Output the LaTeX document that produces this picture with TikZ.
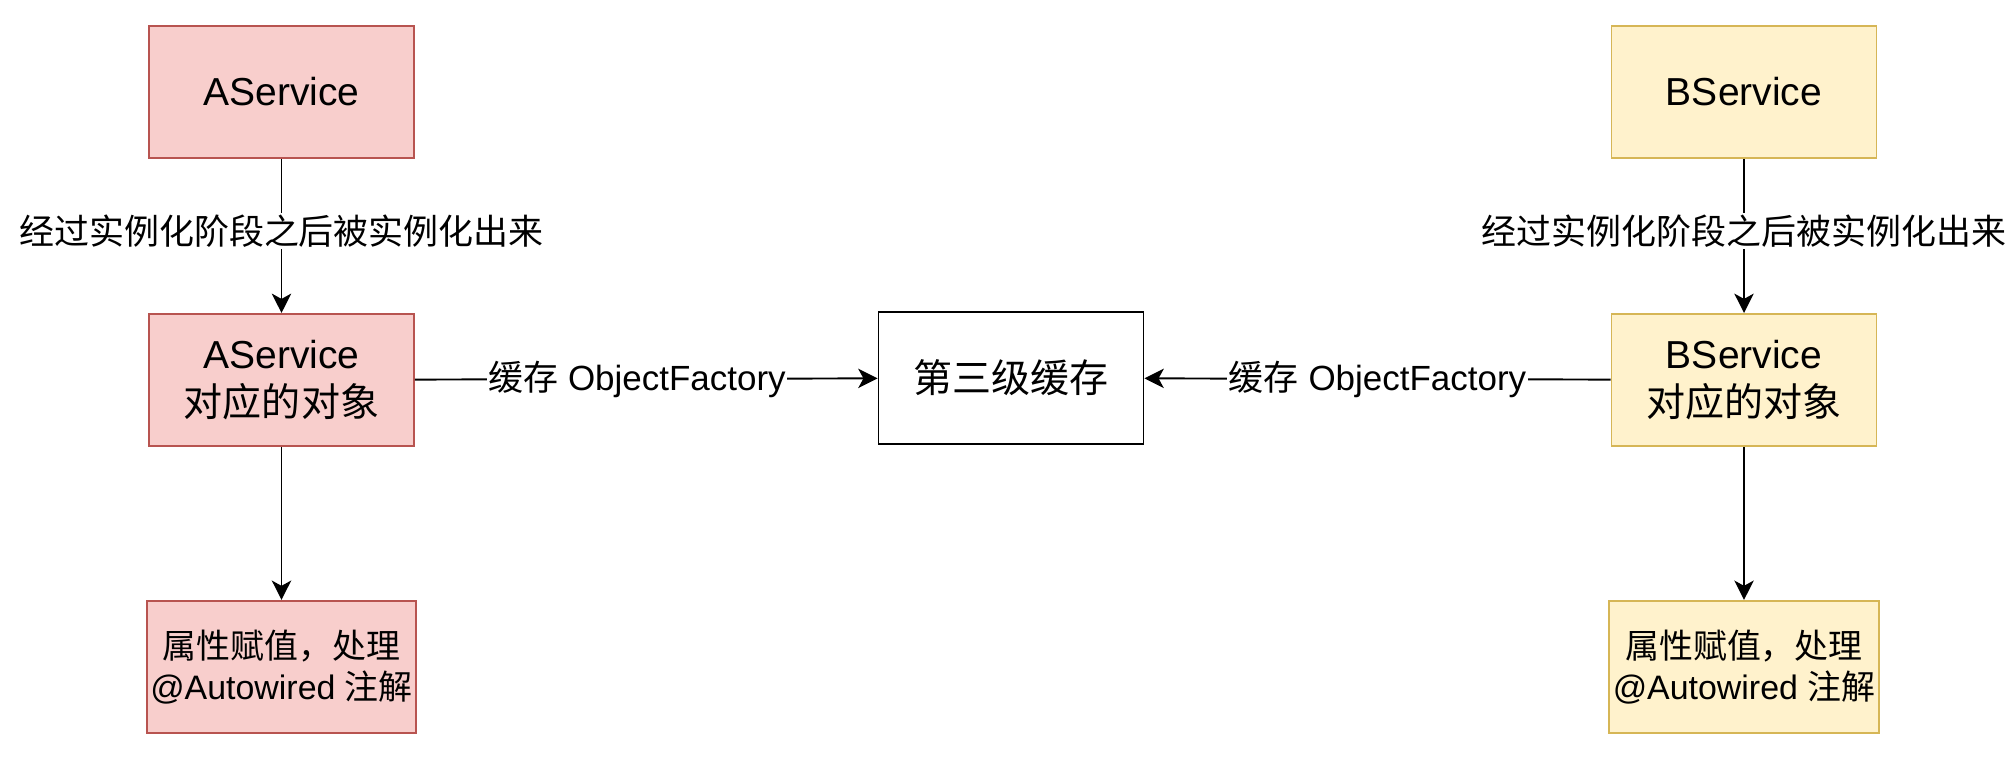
\documentclass[tikz,border=0pt]{standalone}
\usepackage{fontspec}
\setmainfont{Liberation Sans}
\newfontfamily\cjk{Noto Sans CJK SC}
\usetikzlibrary{positioning, arrows.meta}
\definecolor{redfill}{HTML}{F8CECC}
\definecolor{redline}{HTML}{B85450}
\definecolor{yellowfill}{HTML}{FFF2CC}
\definecolor{yellowline}{HTML}{D6B656}
\newcommand{\zh}[1]{{\cjk #1}}

\begin{document}
\begin{tikzpicture}[
    box/.style={
      rectangle, draw=black, fill=white, line width=1.1pt, align=center,
      minimum width=5.3cm, minimum height=2.64cm, inner sep=2pt,
      font=\fontsize{22.2}{27}\selectfont,
    },
    redbox/.style={box, fill=redfill, draw=redline},
    yellowbox/.style={box, fill=yellowfill, draw=yellowline},
    smalltext/.style={font=\fontsize{19.3}{23.5}\selectfont},
    flow/.style={-{Stealth[length=11pt, width=11pt, inset=3pt]}, line width=1.1pt},
    flowlabel/.style={
      font=\fontsize{19.9}{24}\selectfont,
      fill=white, inner sep=1pt,
    },
]
\useasboundingbox (0,0) rectangle (40.28,-15.12);

% A side
\node[redbox] (A1) at (5.63,-1.84) {AService};
\node[redbox, below=3.08cm of A1] (A2) {AService\\\zh{对应的对象}};
\node[redbox, smalltext, below=3.06cm of A2] (A3) {\zh{属性赋值，处理}\\@Autowired \zh{注解}};

% B side
\node[yellowbox] (B1) at (34.88,-1.84) {BService};
\node[yellowbox, below=3.08cm of B1] (B2) {BService\\\zh{对应的对象}};
\node[yellowbox, smalltext, below=3.06cm of B2] (B3) {\zh{属性赋值，处理}\\@Autowired \zh{注解}};

% third-level cache
\node[box] (C) at (20.22,-7.56) {\zh{第三级缓存}};

\draw[flow] (A1) -- (A2) node[flowlabel, pos=0.47] {\zh{经过实例化阶段之后被实例化出来}};
\draw[flow] (A2) -- (A3);
\draw[flow] (B1) -- (B2) node[flowlabel, pos=0.47] {\zh{经过实例化阶段之后被实例化出来}};
\draw[flow] (B2) -- (B3);

\draw[flow] (A2) -- (C) node[flowlabel, pos=0.48] {\zh{缓存} ObjectFactory};
\draw[flow] (B2) -- (C) node[flowlabel, midway] {\zh{缓存} ObjectFactory};

\end{tikzpicture}
\end{document}
